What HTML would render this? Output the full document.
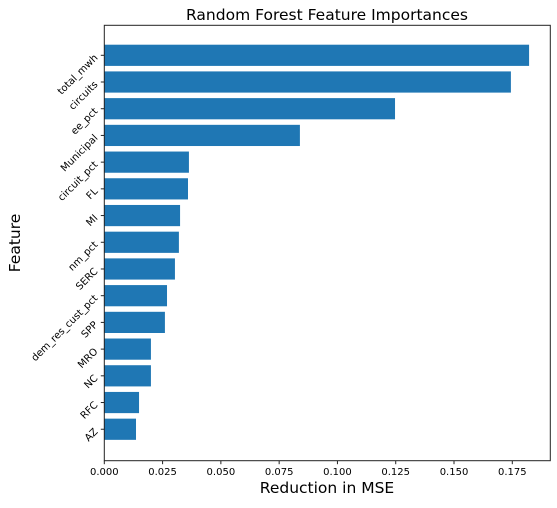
<!DOCTYPE html>
<html><head><meta charset="utf-8"><style>
body{margin:0;background:#fff}
svg text{font-family:"DejaVu Sans","Liberation Sans",sans-serif;fill:#000}
</style></head><body>
<svg id="chart" width="557" height="503">
<text x="327" y="20" font-size="15.5" text-anchor="middle">Random Forest Feature Importances</text>
<g id="bars"></g>
<g id="yticks"></g>
<g id="xticks"></g>
<rect x="104.3" y="25.3" width="446" height="435.4" fill="none" stroke="#222" stroke-width="1"/>
<text x="327" y="493" font-size="15.5" text-anchor="middle">Reduction in MSE</text>
<text x="0" y="0" font-size="15.5" text-anchor="middle" transform="translate(20,243) rotate(-90)">Feature</text>
</svg>
<script>
const categories=["total_mwh","circuits","ee_pct","Municipal","circuit_pct","FL","MI","nm_pct","SERC","dem_res_cust_pct","SPP","MRO","NC","RFC","AZ"];
const values=[0.1822,0.1744,0.1247,0.0839,0.0363,0.0359,0.0325,0.032,0.0303,0.0269,0.026,0.020,0.020,0.0149,0.0136];
const xTicks=[0,0.025,0.05,0.075,0.1,0.125,0.15,0.175];
const xTickLabels=["0.000","0.025","0.050","0.075","0.100","0.125","0.150","0.175"];
const NS="http://www.w3.org/2000/svg";
const X0=104.3,PX=2331.4,Y0=55.3,STEP=26.71,BH=21.2;
const xs=v=>X0+v*PX, ys=i=>Y0+i*STEP;
const bars=document.getElementById('bars'),yt=document.getElementById('yticks'),xt=document.getElementById('xticks');
categories.forEach((c,i)=>{
  const r=document.createElementNS(NS,'rect');
  r.setAttribute('x',X0);r.setAttribute('y',ys(i)-BH/2);
  r.setAttribute('width',xs(values[i])-X0);r.setAttribute('height',BH);
  r.setAttribute('fill','#1f77b4');
  
  
  bars.appendChild(r);
  const l=document.createElementNS(NS,'line');
  l.setAttribute('x1',X0-3.5);l.setAttribute('x2',X0);l.setAttribute('y1',ys(i));l.setAttribute('y2',ys(i));l.setAttribute('stroke','#222');
  yt.appendChild(l);
  const t=document.createElementNS(NS,'text');
  t.setAttribute('font-size','10');t.setAttribute('text-anchor','end');
  t.setAttribute('transform',`translate(${X0-6},${ys(i)+3}) rotate(-45)`);
  t.textContent=c;
  
  
  yt.appendChild(t);
});
xTicks.forEach((v,i)=>{
  const l=document.createElementNS(NS,'line');
  l.setAttribute('x1',xs(v));l.setAttribute('x2',xs(v));l.setAttribute('y1',460.7);l.setAttribute('y2',464.2);l.setAttribute('stroke','#222');
  xt.appendChild(l);
  const t=document.createElementNS(NS,'text');
  t.setAttribute('x',xs(v));t.setAttribute('y',475);t.setAttribute('font-size','10');t.setAttribute('text-anchor','middle');
  t.textContent=xTickLabels[i];
  
  
  xt.appendChild(t);
});
</script>
</body></html>
